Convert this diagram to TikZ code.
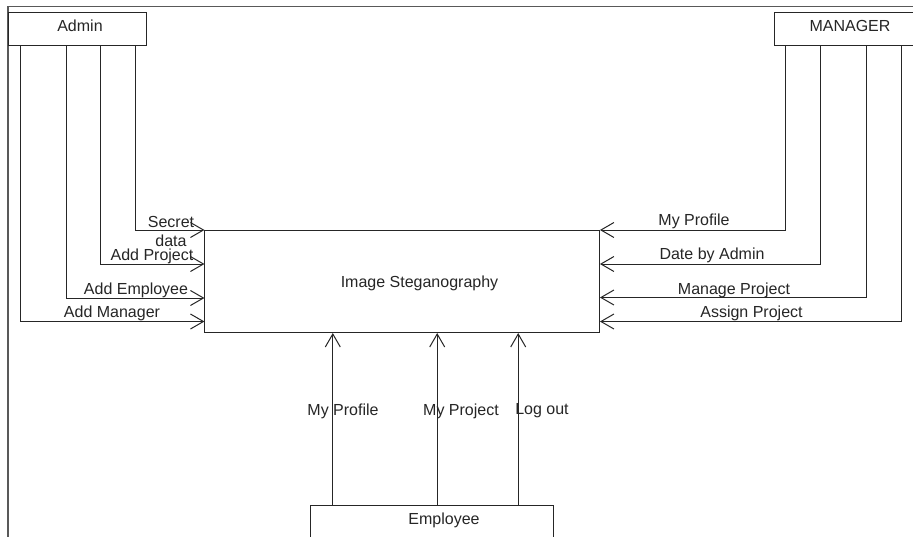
\documentclass[tikz,border=0pt]{standalone}
\usepackage{fontspec}
\setmainfont{Liberation Sans}
\usetikzlibrary{arrows.meta}

\begin{document}
\begin{tikzpicture}[x=1pt,y=-1pt,
  font=\fontsize{16}{19}\selectfont,
  every node/.style={text=black!85, inner sep=0pt},
  box/.style={draw=black!85, line width=1pt, fill=white},
  link/.style={draw=black!85, line width=1pt,
    -{Straight Barb[length=13pt,width=15pt]}},
  frame/.style={draw=black!65, line width=1.3pt},
  lbl/.style={align=center}]

  % page area
  \useasboundingbox (0,0) rectangle (913,536);
  \fill[white] (0,0) rectangle (913,536);
  \clip (0,0) rectangle (913,536);

  % outer frame (top and left edges)
  \draw[frame] (8,540) -- (8,6.5) -- (920,6.5);

  % actors and system
  \node[box, minimum width=138.5pt, minimum height=33pt] (admin) at (77.3,28.5) {};
  \node at (80,26) {Admin};

  \node[box, minimum width=146pt, minimum height=33pt] (manager) at (847,28.5) {};
  \node at (850,26) {MANAGER};

  \node[box, minimum width=394.5pt, minimum height=102pt] (main) at (402.2,281.5) {};
  \node at (419.5,283) {Image Steganography};

  \node[box, minimum width=243pt, minimum height=36pt] (emp) at (431.5,523) {};
  \node at (444,520.5) {Employee};

  % admin flows
  \draw[link] ([xshift=128pt]admin.south west) |- (main.north west);
  \draw[link] ([xshift=93pt]admin.south west) |- ([yshift=-34pt]main.north west);
  \draw[link] ([xshift=58.5pt]admin.south west) |- ([yshift=-68pt]main.north west);
  \draw[link] ([xshift=12.5pt]admin.south west) |- ([yshift=-91.5pt]main.north west);

  \node[lbl] (l1) at (171,231) {Secret\\data};
  \node (l2) at (152,256) {Add Project};
  \node (l3) at (136,290) {Add Employee};
  \node (l4) at (112,313.5) {Add Manager};

  % manager flows
  \draw[link] ([xshift=12pt]manager.south west) |- (main.north east);
  \draw[link] ([xshift=46.7pt]manager.south west) |- ([yshift=-34pt]main.north east);
  \draw[link] ([xshift=93pt]manager.south west) |- ([yshift=-67.5pt]main.north east);
  \draw[link] ([xshift=128pt]manager.south west) |- ([yshift=-91.5pt]main.north east);

  \node (r1) at (694,221) {My Profile};
  \node (r2) at (712,255) {Date by Admin};
  \node (r3) at (734,290) {Manage Project};
  \node (r4) at (751.5,313) {Assign Project};

  % employee flows
  \draw[link] ([xshift=23.3pt]emp.north west) -- ([xshift=23.3pt]emp.north west |- main.south);
  \draw[link] ([xshift=127.7pt]emp.north west) -- ([xshift=127.7pt]emp.north west |- main.south);
  \draw[link] ([xshift=208.7pt]emp.north west) -- ([xshift=208.7pt]emp.north west |- main.south);

  \node (e1) at (343,411) {My Profile};
  \node (e2) at (461,411) {My Project};
  \node (e3) at (542,411) {Log out};
\end{tikzpicture}
\end{document}
